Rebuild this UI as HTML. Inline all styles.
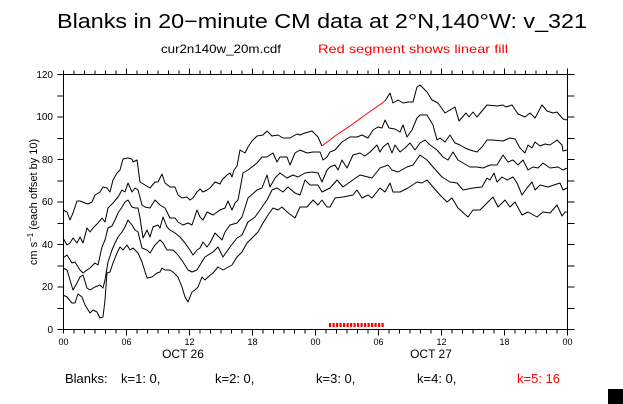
<!DOCTYPE html>
<html><head><meta charset="utf-8"><style>
html,body{margin:0;padding:0;background:#fff;}
svg{display:block;font-family:"Liberation Sans",sans-serif;}
</style></head><body>
<svg width="623" height="404" viewBox="0 0 623 404" xmlns="http://www.w3.org/2000/svg">
<rect width="623" height="404" fill="#fff"/>
<text x="322" y="28" font-size="20" text-anchor="middle" fill="#000" textLength="530" lengthAdjust="spacingAndGlyphs">Blanks in 20−minute CM data at 2°N,140°W: v_321</text>
<text x="161" y="53" font-size="12" fill="#000" textLength="120" lengthAdjust="spacingAndGlyphs">cur2n140w_20m.cdf</text>
<text x="318" y="53" font-size="12" fill="#f00" textLength="190" lengthAdjust="spacingAndGlyphs">Red segment shows linear fill</text>

<g stroke="#000" stroke-width="1" fill="none" shape-rendering="crispEdges">
<rect x="63.5" y="74.5" width="504" height="255"/>
<path d="M63.5 74.5h-6M63.5 95.75h-6M63.5 117h-6M63.5 138.25h-6M63.5 159.5h-6M63.5 180.75h-6M63.5 202h-6M63.5 223.25h-6M63.5 244.5h-6M63.5 265.75h-6M63.5 287h-6M63.5 308.25h-6M63.5 329.5h-6"/>
<path d="M567.5 74.5h7M567.5 95.75h7M567.5 117h7M567.5 138.25h7M567.5 159.5h7M567.5 180.75h7M567.5 202h7M567.5 223.25h7M567.5 244.5h7M567.5 265.75h7M567.5 287h7M567.5 308.25h7M567.5 329.5h7"/>
<path d="M63.5 74.5v-4M74 74.5v-4M84.5 74.5v-4M95 74.5v-4M105.5 74.5v-4M116 74.5v-4M126.5 74.5v-6M137 74.5v-4M147.5 74.5v-4M158 74.5v-4M168.5 74.5v-4M179 74.5v-4M189.5 74.5v-6M200 74.5v-4M210.5 74.5v-4M221 74.5v-4M231.5 74.5v-4M242 74.5v-4M252.5 74.5v-6M263 74.5v-4M273.5 74.5v-4M284 74.5v-4M294.5 74.5v-4M305 74.5v-4M315.5 74.5v-6M326 74.5v-4M336.5 74.5v-4M347 74.5v-4M357.5 74.5v-4M368 74.5v-4M378.5 74.5v-6M389 74.5v-4M399.5 74.5v-4M410 74.5v-4M420.5 74.5v-4M431 74.5v-4M441.5 74.5v-6M452 74.5v-4M462.5 74.5v-4M473 74.5v-4M483.5 74.5v-4M494 74.5v-4M504.5 74.5v-6M515 74.5v-4M525.5 74.5v-4M536 74.5v-4M546.5 74.5v-4M557 74.5v-4M567.5 74.5v-6"/>
<path d="M63.5 329.5v4M74 329.5v4M84.5 329.5v4M95 329.5v4M105.5 329.5v4M116 329.5v4M126.5 329.5v6M137 329.5v4M147.5 329.5v4M158 329.5v4M168.5 329.5v4M179 329.5v4M189.5 329.5v6M200 329.5v4M210.5 329.5v4M221 329.5v4M231.5 329.5v4M242 329.5v4M252.5 329.5v6M263 329.5v4M273.5 329.5v4M284 329.5v4M294.5 329.5v4M305 329.5v4M315.5 329.5v6M326 329.5v4M336.5 329.5v4M347 329.5v4M357.5 329.5v4M368 329.5v4M378.5 329.5v6M389 329.5v4M399.5 329.5v4M410 329.5v4M420.5 329.5v4M431 329.5v4M441.5 329.5v6M452 329.5v4M462.5 329.5v4M473 329.5v4M483.5 329.5v4M494 329.5v4M504.5 329.5v6M515 329.5v4M525.5 329.5v4M536 329.5v4M546.5 329.5v4M557 329.5v4M567.5 329.5v6"/>
</g>

<g font-size="10" fill="#000" text-anchor="end">
<text x="53" y="78">120</text><text x="53" y="120">100</text><text x="53" y="163">80</text>
<text x="53" y="205">60</text><text x="53" y="248">40</text><text x="53" y="290">20</text><text x="53" y="333">0</text>
</g>
<g font-size="9" fill="#000" text-anchor="middle">
<text x="63.5" y="345">00</text><text x="126.5" y="345">06</text><text x="189.5" y="345">12</text><text x="252.5" y="345">18</text>
<text x="315.5" y="345">00</text><text x="378.5" y="345">06</text><text x="441.5" y="345">12</text><text x="504.5" y="345">18</text><text x="567.5" y="345">00</text>
</g>
<g font-size="12" fill="#000" text-anchor="middle">
<text x="183" y="358">OCT 26</text><text x="431" y="358">OCT 27</text>
</g>
<text transform="translate(37,202) rotate(-90)" font-size="11" text-anchor="middle" fill="#000">cm s<tspan font-size="8" dy="-4">−1</tspan><tspan dy="4"> (each offset by 10)</tspan></text>

<g fill="none" stroke="#000" stroke-width="1" stroke-linejoin="round">
<polyline points="63,210 67,212 70,220 73,213 77,201 80,201 85,203 88,204 92,202 95,195 100,192 103,187 107,188 110,192 113,180 117,173 120,170 123,159 128,158 132,159 133,162 137,160 140,182 145,185 150,188 155,182 158,182 162,174 165,183 170,187 175,187 178,195 182,198 187,197 190,200 193,198 197,192 200,189 203,192 207,190 210,188 215,182 220,184 222,180 227,175 230,173 232,177 234,170 237,166 240,150 245,153 248,147 252,141 257,136 263,135 267,131 272,136 278,135 283,138 290,138 297,134 300,135 305,133 312,131 318,137 322,146"/>
<polyline points="385,101 390,93 393,103 398,100 403,103 408,102 413,102 417,87 420,85 427,92 432,100 438,103 445,113 450,110 455,107 459,121 466,113 469,117 473,112 477,117 487,105 497,106 503,105 506,107 512,105 518,114 525,117 530,113 535,118 542,105 547,111 553,113 557,112 563,119 567,120"/>
<polyline points="63,238 67,245 70,243 73,238 77,243 80,237 83,243 87,228 90,232 93,228 98,223 102,218 105,222 108,208 113,203 118,197 122,190 125,192 128,183 132,192 135,188 138,190 142,205 145,207 150,208 155,200 160,205 165,208 170,218 175,218 178,222 183,225 188,223 192,225 197,210 200,217 203,220 207,212 213,215 220,210 225,208 228,201 232,210 235,203 238,200 243,173 248,170 257,163 262,157 267,157 273,153 277,162 280,157 287,157 290,165 295,153 300,150 307,153 313,152 320,152 323,160 327,157 330,152 335,150 342,142 350,137 357,137 362,135 368,138 373,130 378,127 382,128 385,120 389,128 395,129 400,132 403,125 407,137 412,130 417,118 420,115 427,115 430,120 433,125 437,140 440,138 445,142 450,135 455,143 460,145 465,148 470,150 477,152 482,147 487,140 493,140 503,141 510,138 515,139 520,148 525,153 528,145 532,148 535,142 540,146 545,144 550,145 557,140 562,145 563,151 567,150"/>
<polyline points="63,258 67,255 72,263 75,262 80,270 83,273 87,270 90,268 95,263 98,265 102,247 105,240 108,228 112,226 115,220 118,213 122,207 125,202 128,200 132,207 135,208 138,208 140,218 143,238 147,230 150,237 153,227 158,225 160,228 163,217 167,227 170,230 175,233 180,237 185,243 190,250 193,255 197,250 200,248 203,242 207,247 210,243 215,233 222,240 225,232 230,225 237,223 242,217 248,198 257,190 262,188 267,175 270,187 275,178 280,173 287,178 293,175 298,177 305,173 312,172 318,173 322,182 327,170 330,167 335,165 338,170 342,160 347,168 353,155 360,153 365,156 370,152 377,145 380,152 383,147 388,143 392,153 395,145 400,152 405,148 410,143 415,150 420,143 425,140 430,145 437,150 443,157 448,160 453,152 458,160 463,163 470,167 477,167 483,168 490,165 497,165 503,155 508,162 513,160 518,165 523,160 528,170 533,167 538,168 543,163 550,168 558,167 563,170 567,168"/>
<polyline points="63,268 67,270 70,280 73,290 77,283 80,277 83,275 87,288 90,290 95,287 100,285 103,288 105,280 108,262 112,250 115,243 118,237 122,232 125,227 128,220 132,225 135,230 138,232 142,248 147,250 150,253 155,245 160,240 163,243 167,250 173,250 178,255 183,262 188,270 192,272 197,270 200,265 205,257 213,252 218,247 223,257 230,247 237,238 242,235 248,222 255,217 260,210 267,200 272,190 277,188 283,192 288,187 295,193 300,195 305,180 310,185 318,185 322,192 330,188 337,180 343,187 350,182 360,175 372,178 380,168 388,165 392,170 398,172 407,167 413,165 420,155 427,160 433,167 442,177 450,182 457,183 463,190 473,188 482,187 487,178 490,180 494,173 497,182 502,177 507,180 513,177 517,183 522,195 527,188 532,182 535,190 540,185 548,187 560,183 563,190 567,188"/>
<polyline points="63,295 67,297 72,303 75,303 78,294 82,297 85,305 90,313 93,310 97,312 100,318 103,317 105,300 107,273 110,272 113,263 117,253 120,247 123,250 127,245 130,250 133,248 138,253 142,262 147,278 152,277 157,273 160,272 162,268 165,270 170,270 173,272 178,277 182,287 185,297 188,302 192,292 195,290 198,287 202,277 205,280 208,277 213,273 218,267 223,270 232,265 237,257 242,252 247,243 252,238 258,232 263,223 268,215 273,208 278,210 282,207 287,212 295,218 300,207 307,207 313,200 318,205 322,200 327,207 330,207 335,198 343,197 353,195 357,190 362,198 368,195 372,198 380,188 385,192 390,183 393,192 400,192 408,188 417,182 422,183 427,180 433,187 440,195 447,202 452,198 458,208 468,217 473,210 480,210 487,203 493,197 498,207 505,200 510,207 515,202 522,215 528,212 537,217 543,212 550,213 557,205 562,216 565,212 567,212"/>
</g>
<polyline points="322,146 335,136 350,126 365,115 378,106 385,101" fill="none" stroke="#f00" stroke-width="1"/>
<path d="M329 325h55" stroke="#f00" stroke-width="4" stroke-dasharray="2.2,1.3" fill="none"/>

<g font-size="13" fill="#000">
<text x="65" y="383">Blanks:</text>
<text x="121" y="383">k=1: 0,</text>
<text x="215" y="383">k=2: 0,</text>
<text x="316" y="383">k=3: 0,</text>
<text x="417" y="383">k=4: 0,</text>
<text x="517" y="383" fill="#f00">k=5: 16</text>
</g>
<rect x="608" y="389" width="15" height="15" fill="#000"/>
</svg>
</body></html>
